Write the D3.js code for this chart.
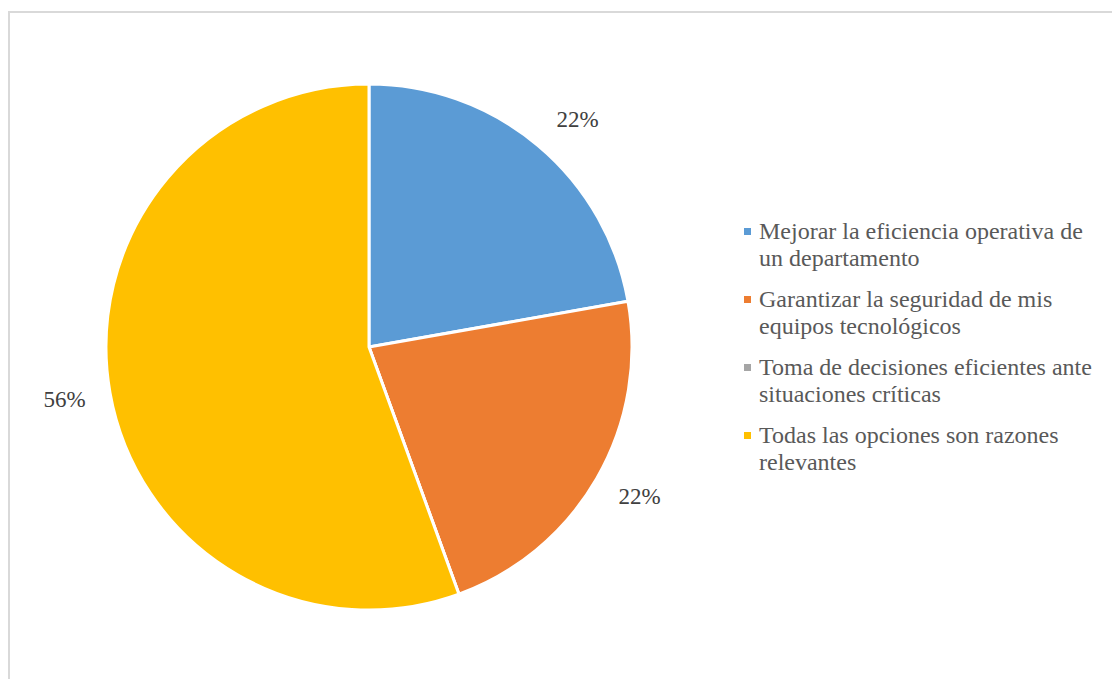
<!DOCTYPE html>
<html>
<head>
<meta charset="utf-8">
<script src="https://cdn.jsdelivr.net/npm/d3@7"></script>
<style>
  html, body { margin: 0; padding: 0; background: #ffffff; }
  svg { display: block; }
  .serif { font-family: "Liberation Serif", "Times New Roman", Tinos, "DejaVu Serif", serif; }
</style>
</head>
<body>
<svg id="chart" width="1112" height="679"></svg>
<script>
// Reasons for adopting the technology (share of respondents)
const categories = [
  "Mejorar la eficiencia operativa de un departamento",
  "Garantizar la seguridad de mis equipos tecnológicos",
  "Toma de decisiones eficientes ante situaciones críticas",
  "Todas las opciones son razones relevantes"
];
const legendLines = [
  ["Mejorar la eficiencia operativa de", "un departamento"],
  ["Garantizar la seguridad de mis", "equipos tecnológicos"],
  ["Toma de decisiones eficientes ante", "situaciones críticas"],
  ["Todas las opciones son razones", "relevantes"]
];
const responses = [2, 2, 0, 5];
const colors = ["#5b9bd5", "#ed7d31", "#a5a5a5", "#ffc000"];

const svg = d3.select("#chart");

// chart area frame
svg.append("rect")
  .attr("x", 9).attr("y", 12)
  .attr("width", 1200).attr("height", 800)
  .attr("fill", "#ffffff")
  .attr("stroke", "#d9d9d9")
  .attr("stroke-width", 2);

const cx = 369, cy = 347, r = 263;
const total = d3.sum(responses);

const pie = d3.pie().sort(null).value(d => d);
const arcs = pie(responses);
const arc = d3.arc().innerRadius(0).outerRadius(r);
const labelArc = d3.arc().innerRadius(309).outerRadius(309);
// small best-fit nudges for the outside data labels (by slice index)
const labelNudge = [[10, 9], [3, -6], [0, 0], [0, -2]];

const g = svg.append("g").attr("transform", `translate(${cx},${cy})`);

g.selectAll("path.slice")
  .data(arcs)
  .join("path")
  .attr("class", "slice")
  .attr("d", arc)
  .attr("fill", (d, i) => colors[i])
  .attr("stroke", "#ffffff")
  .attr("stroke-width", 3)
  .attr("stroke-linejoin", "round");

const pct = d3.format(".0%");
g.selectAll("text.val")
  .data(arcs.filter(d => d.value > 0))
  .join("text")
  .attr("class", "val serif")
  .attr("x", d => labelArc.centroid(d)[0] + labelNudge[d.index][0])
  .attr("y", d => labelArc.centroid(d)[1] + labelNudge[d.index][1])
  .attr("dy", "0.35em")
  .attr("text-anchor", "middle")
  .style("font-size", "23px")
  .attr("fill", "#404040")
  .text(d => pct(d.value / total));

// legend
const legend = svg.append("g").attr("transform", "translate(744,239)");
const item = legend.selectAll("g.item")
  .data(categories)
  .join("g")
  .attr("class", "item")
  .attr("transform", (d, i) => `translate(0,${i * 68})`);

item.append("rect")
  .attr("x", 0).attr("y", -11)
  .attr("width", 7).attr("height", 7)
  .attr("fill", (d, i) => colors[i]);

item.append("text")
  .attr("class", "serif")
  .attr("x", 15)
  .attr("y", 0)
  .style("font-size", "24px")
  .attr("fill", "#595959")
  .selectAll("tspan")
  .data((d, i) => legendLines[i])
  .join("tspan")
  .attr("x", 15)
  .attr("dy", (d, j) => j === 0 ? 0 : 27)
  .text(d => d);
</script>
</body>
</html>
